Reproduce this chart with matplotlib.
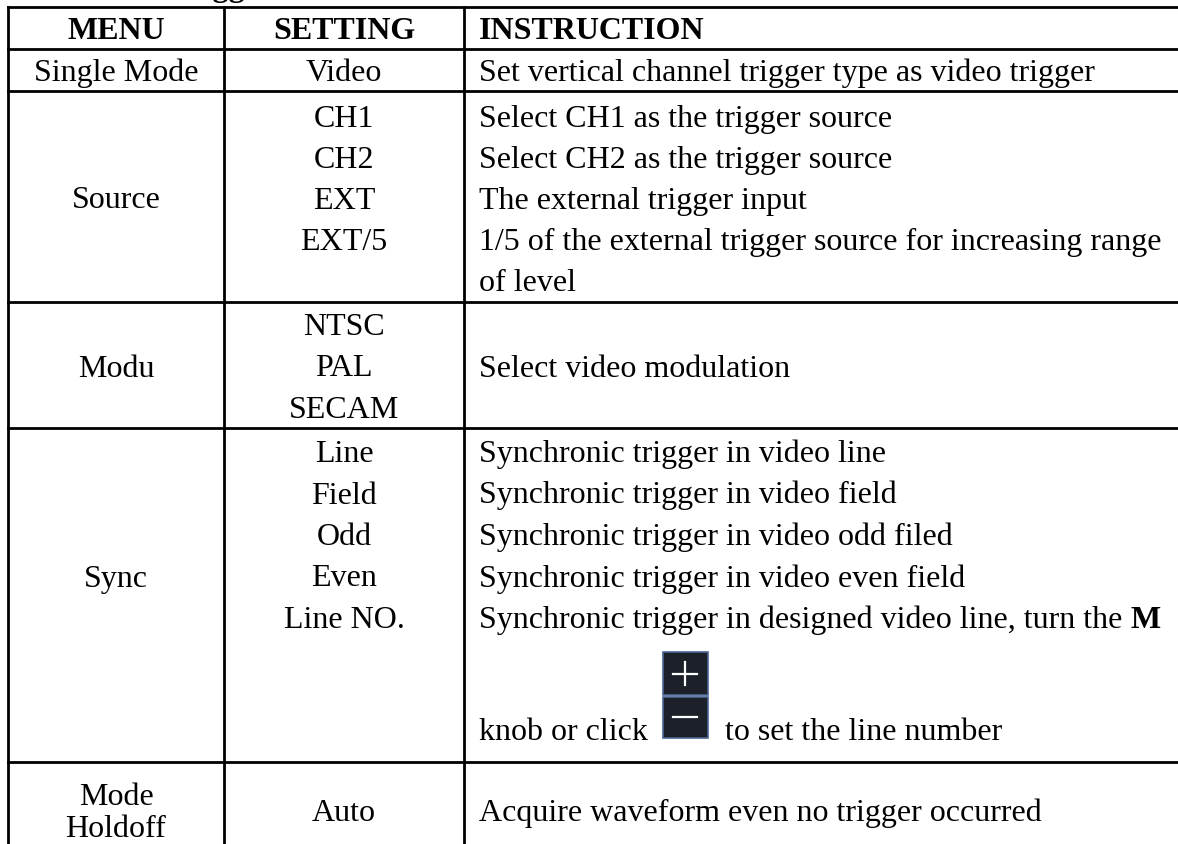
import matplotlib.pyplot as plt
from matplotlib.patches import Rectangle

plt.rcParams['font.family'] = ['Liberation Serif', 'DejaVu Serif']

# table content
headers = ["MENU", "SETTING", "INSTRUCTION"]
menu_labels = ["Single Mode", "Source", "Modu", "Sync", "Mode\nHoldoff"]
setting_items = [
    ["Video"],
    ["CH1", "CH2", "EXT", "EXT/5"],
    ["NTSC", "PAL", "SECAM"],
    ["Line", "Field", "Odd", "Even", "Line NO."],
    ["Auto"],
]
instruction_items = [
    ["Set vertical channel trigger type as video trigger"],
    ["Select CH1 as the trigger source",
     "Select CH2 as the trigger source",
     "The external trigger input",
     "1/5 of the external trigger source for increasing range",
     "of level"],
    ["Select video modulation"],
    ["Synchronic trigger in video line",
     "Synchronic trigger in video field",
     "Synchronic trigger in video odd filed",
     "Synchronic trigger in video even field",
     "Synchronic trigger in designed video line, turn the "],
    ["Acquire waveform even no trigger occurred"],
]
bold_tail = "M"
knob_left = "knob or click"
knob_right = "to set the line number"

# layout (pixels)
W, H = 1178, 844
col_x = [8, 224, 464, W + 10]
row_y = [7, 49, 91, 302, 428, 762, H + 30]
pitch = 41.5
menu_base = [81, 208, 377, 586.5, 805]
setting_base = [81, 127, 335, 462, 821]
instr_base = [81, 127, 377, 462, 821]
fs = 23
lw = 2.0

fig = plt.figure(figsize=(W / 100, H / 100), dpi=100)
ax = fig.add_axes([0, 0, 1, 1])
ax.set_xlim(0, W)
ax.set_ylim(H, 0)
ax.axis('off')

# grid lines
for y in row_y[:-1]:
    ax.plot([col_x[0], col_x[-1]], [y, y], color='black', lw=lw, solid_capstyle='projecting')
for x in col_x:
    ax.plot([x, x], [row_y[0], row_y[-1]], color='black', lw=lw)

menu_cx = (col_x[0] + col_x[1]) / 2
set_cx = (col_x[1] + col_x[2]) / 2
instr_x = col_x[2] + 15

# caption above the table, mostly outside the picture
ax.text(84, -4, "Video Trigger", fontsize=fs, fontweight='bold', va='baseline')

# header
ax.text(menu_cx, 39, headers[0], fontsize=fs, fontweight='bold', ha='center', va='baseline')
ax.text(set_cx, 39, headers[1], fontsize=fs, fontweight='bold', ha='center', va='baseline')
ax.text(instr_x, 39, headers[2], fontsize=fs, fontweight='bold', ha='left', va='baseline')

for r in range(len(menu_labels)):
    lines = menu_labels[r].split("\n")
    step = 32 if len(lines) > 1 else pitch
    for i, s in enumerate(lines):
        ax.text(menu_cx, menu_base[r] + step * i, s, fontsize=fs, ha='center', va='baseline')
    sp = 41 if r == 1 else pitch
    for i, s in enumerate(setting_items[r]):
        ax.text(set_cx, setting_base[r] + sp * i, s, fontsize=fs, ha='center', va='baseline')
    last = None
    for i, s in enumerate(instruction_items[r]):
        last = ax.text(instr_x, instr_base[r] + sp * i, s, fontsize=fs, ha='left', va='baseline')
    if r == 3:
        ax.annotate(bold_tail, xy=(1, 0), xycoords=last, fontsize=fs,
                    fontweight='bold', ha='left', va='bottom')

# knob line with +/- icon
ax.text(instr_x, 740, knob_left, fontsize=fs, ha='left', va='baseline')
ax.add_patch(Rectangle((663, 652), 45, 43, facecolor='#1b2029', edgecolor='#4a6694', lw=1.2))
ax.add_patch(Rectangle((663, 697), 45, 41, facecolor='#1b2029', edgecolor='#4a6694', lw=1.2))
ax.plot([673, 697], [673.5, 673.5], color='white', lw=1.6)
ax.plot([685, 685], [662, 685], color='white', lw=1.6)
ax.plot([673, 697], [717, 717], color='white', lw=1.6)
ax.text(725, 740, knob_right, fontsize=fs, ha='left', va='baseline')

fig.savefig("out.png", dpi=100, facecolor='white')
